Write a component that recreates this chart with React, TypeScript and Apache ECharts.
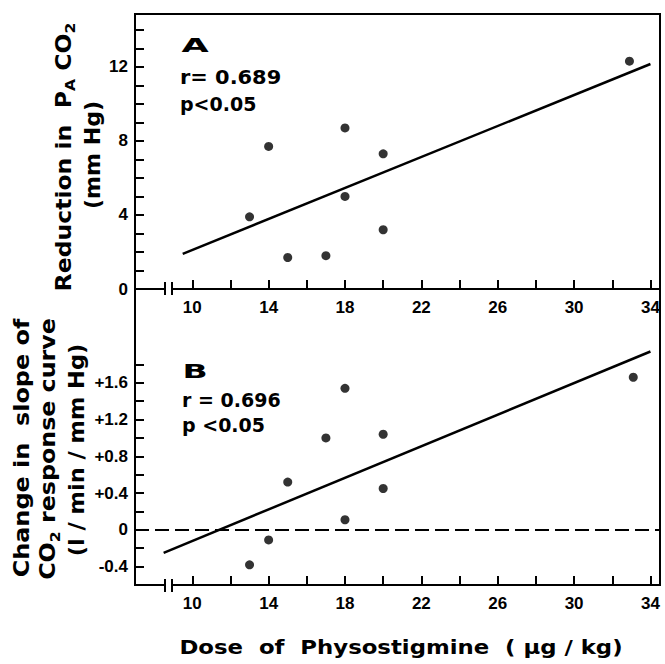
import React, { useEffect, useRef } from "react";
import * as echarts from "echarts";

// ---- data ----
const doseA = [13, 14, 15, 17, 18, 18, 20, 20, 32.9];
const reductionA = [3.9, 7.7, 1.7, 1.8, 8.7, 5.0, 7.3, 3.2, 12.3];
const fitA = [
  [9.5, 1.9],
  [34, 12.15],
];

const doseB = [13, 14, 15, 17, 18, 18, 20, 20, 33.1];
const slopeChangeB = [-0.38, -0.11, 0.52, 1.0, 1.54, 0.11, 1.04, 0.45, 1.66];
const fitB = [
  [8.5, -0.25],
  [34, 1.94],
];

const xTicks = [10, 12, 14, 16, 18, 20, 22, 24, 26, 28, 30, 32, 34];
const xLabels = [10, 14, 18, 22, 26, 30, 34];
const yTicksA = [1, 2, 3, 4, 5, 6, 7, 8, 9, 10, 11, 12, 13, 14];
const yLabelsA = [0, 4, 8, 12];
const yTicksB = [-0.4, -0.2, 0, 0.2, 0.4, 0.6, 0.8, 1.0, 1.2, 1.4, 1.6, 1.8];
const yLabelsB = [-0.4, 0, 0.4, 0.8, 1.2, 1.6];
const zeroLineB = 0;

const rA = "r= 0.689";
const pA = "p<0.05";
const rB = "r = 0.696";
const pB = "p <0.05";

const TICK_FONT = "'Liberation Sans', 'DejaVu Sans', sans-serif";
const TITLE_FONT = "'DejaVu Sans', 'Liberation Sans', sans-serif";

function xAxis(gridIndex: number) {
  return {
    gridIndex,
    type: "value",
    min: 7,
    max: 34.5,
    axisLine: { show: true, onZero: false, lineStyle: { color: "#000", width: 2 } },
    axisTick: {
      show: true,
      inside: true,
      length: 9,
      customValues: xTicks,
      lineStyle: { color: "#000", width: 2 },
    },
    axisLabel: {
      customValues: xLabels,
      color: "#000",
      fontSize: 17,
      fontWeight: "bold",
      fontFamily: TICK_FONT,
      margin: 10,
    },
    splitLine: { show: false },
  };
}

export default function App() {
  const ref = useRef<HTMLDivElement>(null);
  useEffect(() => {
    if (!ref.current) return;
    const chart = echarts.init(ref.current, undefined, { renderer: "svg" });
    const fmtB = (v: number) => {
      const r = Math.round(v * 10) / 10;
      if (r === 0) return "0";
      return r > 0 ? "+" + r.toFixed(1) : r.toFixed(1);
    };
    const labelStyle = {
      color: "#000",
      fontSize: 17,
      fontWeight: "bold",
      fontFamily: TICK_FONT,
      margin: 7,
    };
    const tickStyle = { show: true, inside: true, length: 9, lineStyle: { color: "#000", width: 2 } };
    const textStyle = (text: string, size: number, extra: any = {}) => ({
      text,
      fill: "#000",
      fontSize: size,
      fontFamily: TITLE_FONT,
      fontWeight: "bold",
      ...extra,
    });
    const richN = { fontSize: 21, fontWeight: "bold", fontFamily: TITLE_FONT, fill: "#000", color: "#000", lineHeight: 28 };
    const richS = { fontSize: 14, fontWeight: "bold", fontFamily: TITLE_FONT, fill: "#000", color: "#000", verticalAlign: "bottom", lineHeight: 28 };
    const vText = (x: number, y: number, sx: number, style: any) => ({
      type: "text",
      x,
      y,
      rotation: Math.PI / 2,
      scaleX: sx,
      style,
    });

    const option: any = {
      animation: false,
      backgroundColor: "#fff",
      grid: [
        { left: 135, top: 14, width: 525, height: 275, show: true, borderColor: "#000", borderWidth: 2, backgroundColor: "transparent" },
        { left: 135, top: 289, width: 525, height: 296, show: true, borderColor: "#000", borderWidth: 2, backgroundColor: "transparent" },
      ],
      xAxis: [xAxis(0), xAxis(1)],
      yAxis: [
        {
          gridIndex: 0,
          type: "value",
          min: 0,
          max: 14.85,
          axisLine: { show: true, lineStyle: { color: "#000", width: 2 } },
          axisTick: { ...tickStyle, customValues: yTicksA },
          axisLabel: { ...labelStyle, customValues: yLabelsA },
          splitLine: { show: false },
        },
        {
          gridIndex: 1,
          type: "value",
          min: -0.6,
          max: 2.62,
          axisLine: { show: true, onZero: false, lineStyle: { color: "#000", width: 2 } },
          axisTick: { ...tickStyle, customValues: yTicksB },
          axisLabel: { ...labelStyle, customValues: yLabelsB, formatter: fmtB },
          splitLine: { show: false },
        },
      ],
      series: [
        {
          type: "scatter",
          xAxisIndex: 0,
          yAxisIndex: 0,
          symbolSize: 9,
          itemStyle: { color: "#000" },
          data: doseA.map((d, i) => [d, reductionA[i]]),
        },
        {
          type: "line",
          xAxisIndex: 0,
          yAxisIndex: 0,
          showSymbol: false,
          symbol: "none",
          lineStyle: { color: "#000", width: 2.5 },
          data: fitA,
        },
        {
          type: "scatter",
          xAxisIndex: 1,
          yAxisIndex: 1,
          symbolSize: 9,
          itemStyle: { color: "#000" },
          data: doseB.map((d, i) => [d, slopeChangeB[i]]),
          markLine: {
            silent: true,
            symbol: "none",
            label: { show: false },
            lineStyle: { color: "#000", width: 2, type: [14, 6] },
            data: [{ yAxis: zeroLineB }],
          },
        },
        {
          type: "line",
          xAxisIndex: 1,
          yAxisIndex: 1,
          showSymbol: false,
          symbol: "none",
          lineStyle: { color: "#000", width: 2.5 },
          data: fitB,
        },
      ],
      graphic: [
        // axis breaks
        { type: "rect", z: 100, shape: { x: 165.5, y: 285, width: 6, height: 8 }, style: { fill: "#fff" } },
        { type: "line", z: 101, shape: { x1: 165, y1: 282, x2: 165, y2: 295 }, style: { stroke: "#000", lineWidth: 2 } },
        { type: "line", z: 101, shape: { x1: 172, y1: 282, x2: 172, y2: 295 }, style: { stroke: "#000", lineWidth: 2 } },
        { type: "rect", z: 100, shape: { x: 165.5, y: 581, width: 6, height: 8 }, style: { fill: "#fff" } },
        { type: "line", z: 101, shape: { x1: 165, y1: 579, x2: 165, y2: 592 }, style: { stroke: "#000", lineWidth: 2 } },
        { type: "line", z: 101, shape: { x1: 172, y1: 579, x2: 172, y2: 592 }, style: { stroke: "#000", lineWidth: 2 } },
        // panel A annotations
        { type: "text", x: 195, y: 46, scaleX: 1.6, scaleY: 0.85, style: textStyle("A", 22, { align: "center", verticalAlign: "middle", fontWeight: 900 }) },
        { type: "text", x: 180, y: 77, scaleX: 1.1, style: textStyle(rA, 19, { align: "left", verticalAlign: "middle" }) },
        { type: "text", x: 180, y: 104, scaleX: 1.0, style: textStyle(pA, 19, { align: "left", verticalAlign: "middle" }) },
        // panel B annotations
        { type: "text", x: 195, y: 371, scaleX: 1.5, scaleY: 0.85, style: textStyle("B", 22, { align: "center", verticalAlign: "middle", fontWeight: 900 }) },
        { type: "text", x: 182, y: 400, scaleX: 1.0, style: textStyle(rB, 19, { align: "left", verticalAlign: "middle" }) },
        { type: "text", x: 182, y: 425, scaleX: 1.0, style: textStyle(pB, 19, { align: "left", verticalAlign: "middle" }) },
        // y titles
        vText(63, 157, 1.12, {
          text: "{n|Reduction in  P}{s|A}{n| CO}{s|2}",
          align: "center",
          verticalAlign: "middle",
          rich: { n: richN, s: richS },
        }),
        vText(93, 155, 1.05, textStyle("(mm Hg)", 21, { align: "center", verticalAlign: "middle" })),
        vText(22, 448, 1.14, textStyle("Change in  slope of", 21, { align: "center", verticalAlign: "middle" })),
        vText(48, 449, 1.13, {
          text: "{n|CO}{s|2}{n| response curve}",
          align: "center",
          verticalAlign: "middle",
          rich: { n: richN, s: richS },
        }),
        vText(77, 450, 1.07, textStyle("(l / min / mm Hg)", 21, { align: "center", verticalAlign: "middle" })),
        // x title
        { type: "text", x: 401, y: 647, scaleX: 1.14, style: textStyle("Dose  of  Physostigmine  ( μg / kg)", 20, { align: "center", verticalAlign: "middle" }) },
      ],
    };
    chart.setOption(option);
    return () => chart.dispose();
  }, []);
  return (
    <div
      ref={ref}
      style={{ position: "fixed", left: 0, top: 0, width: 665, height: 664, background: "#fff" }}
    />
  );
}
